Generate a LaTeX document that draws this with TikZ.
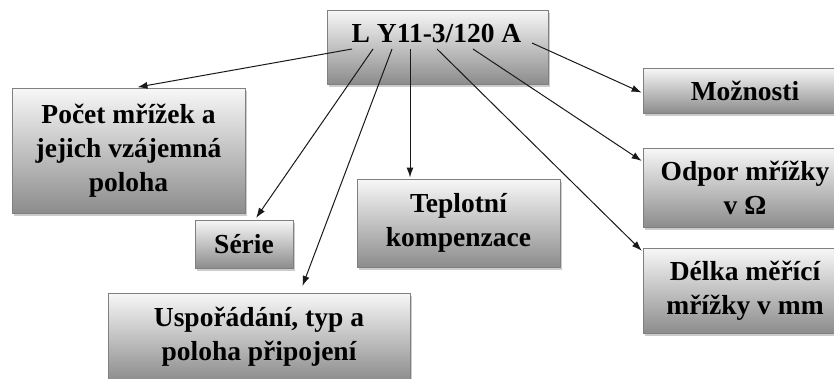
\documentclass[tikz,border=0pt]{standalone}
\usepackage{fontspec}
\setmainfont{Liberation Serif}
\usetikzlibrary{arrows.meta,shadows}

\begin{document}
\begin{tikzpicture}[x=1pt,y=-1pt,
    box/.style={draw=black!50,line width=1pt,top color=black!3,bottom color=black!45,
        drop shadow={shadow xshift=2pt,shadow yshift=-3pt,fill=black!40,opacity=0.5},
        align=center,inner sep=0pt,
        font=\bfseries\fontsize{27.5}{34}\selectfont},
    conn/.style={draw=black!90,line width=1pt,-{Latex[length=10pt,width=7pt]},shorten >=2pt}]
    \useasboundingbox (0,0) rectangle (834,378);
    %% type code
    \node[box,minimum width=221pt,minimum height=74pt] (code) at (437.5,47) {};
    \node[font=\bfseries\fontsize{27.5}{34}\selectfont,inner sep=0pt] (codetxt) at (436.5,33) {L Y11-3/120 A};
    %% meanings
    \node[box,minimum width=233pt,minimum height=125pt] (pocet) at (128.5,150.5) {Počet mřížek a\\jejich vzájemná\\poloha};
    \node[box,minimum width=98pt,minimum height=48pt] (serie) at (244,244) {Série};
    \node[box,minimum width=302pt,minimum height=88pt] (usp) at (259,337) {Uspořádání, typ a\\poloha připojení};
    \node[box,minimum width=203pt,minimum height=88pt] (tepl) at (458.5,223) {Teplotní\\kompenzace};
    \node[box,minimum width=204pt,minimum height=45pt] (moz) at (745,90.5) {Možnosti};
    \node[box,minimum width=204pt,minimum height=79pt] (odpor) at (745,187.5) {Odpor mřížky\\v Ω};
    \node[box,minimum width=204pt,minimum height=85pt] (delka) at (745,290.5) {Délka měřící\\mřížky v mm};
    %% starting points under the characters
    \coordinate (sL) at (352,49);
    \coordinate (sY) at (373,49);
    \coordinate (sEl) at (392,49);
    \coordinate (sDash) at (410,49);
    \coordinate (sThree) at (437,49);
    \coordinate (sOhm) at (473,49);
    \coordinate (sA) at (532,43);
    %% arrows
    \draw[conn] (sL) -- ([xshift=7pt]pocet.north);
    \draw[conn] (sY) -- ([xshift=11pt]serie.north);
    \draw[conn,shorten >=7pt] (sEl) -- ([xshift=41pt]usp.north);
    \draw[conn,shorten >=1pt] (sDash) -- ([xshift=-48.5pt]tepl.north);
    \draw[conn,shorten >=1pt] (sThree) -- ([yshift=-4pt]delka.north west);
    \draw[conn,shorten >=1pt] (sOhm) -- ([yshift=-14pt]odpor.north west);
    \draw[conn,shorten >=1pt] (sA) -- ([yshift=-2.5pt]moz.west);
\end{tikzpicture}
\end{document}
